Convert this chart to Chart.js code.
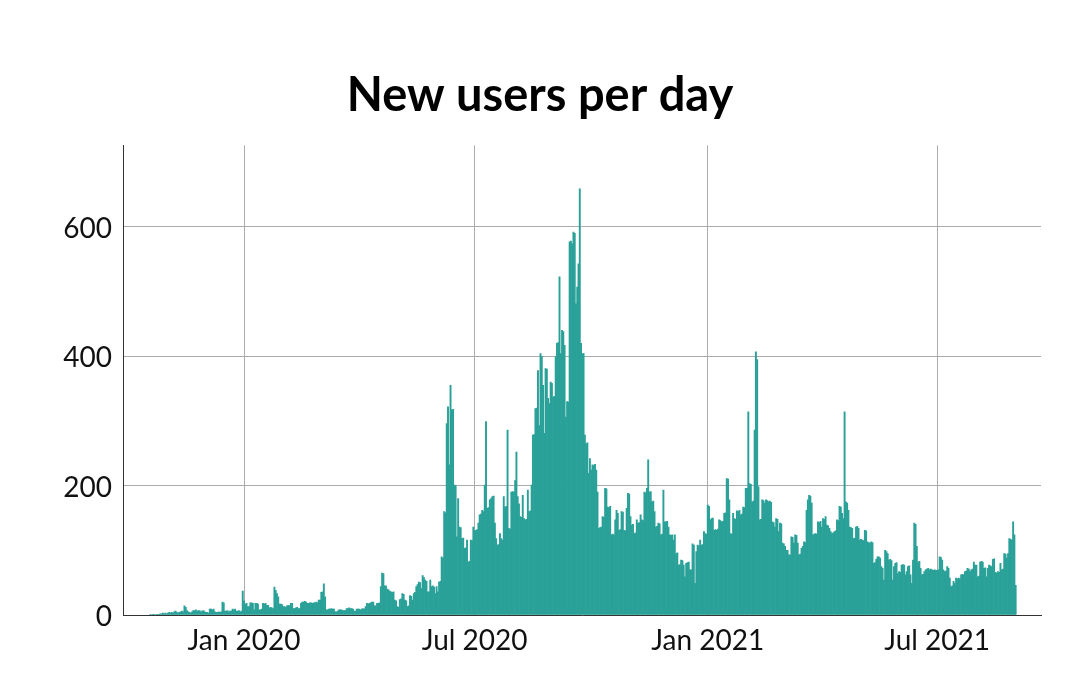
<!DOCTYPE html>
<html>
<head>
<meta charset="utf-8">
<script src="https://cdn.jsdelivr.net/npm/chart.js@4.4.1/dist/chart.umd.min.js"></script>
<style>
  html, body { margin: 0; padding: 0; background: #ffffff; }
  #users { display: block; }
</style>
</head>
<body>
<canvas id="users" width="1080" height="685"></canvas>
<script>
// daily new users, first value is 19 Oct 2019
const firstDay = Date.UTC(2019, 9, 19);
const users2019 = [
  1, 0, 1, 1, 0, 1, 1, 1, 2, 2, 3, 2, 3, 2, 3, 4, 3, 4, 3,
  5, 6, 4, 3, 4, 5, 6, 5, 14, 12, 7, 5, 4, 3, 5, 7, 7, 8, 6, 7, 7, 5, 6, 7, 5, 4, 4, 3, 9, 9, 8, 9, 5, 4, 4, 5, 4, 5, 20, 19, 6, 6, 7, 5, 6, 6, 9, 8, 9, 6, 6, 7, 5, 6, 37,
];
const users2020 = [
  // jan
  22, 17, 18, 13, 13, 19, 19, 18, 8, 18, 18, 17, 8, 8, 9, 18, 17, 18, 15, 15, 11, 12, 11, 10, 43, 38, 33, 28, 17, 17, 16,
  // feb
  13, 13, 12, 14, 15, 14, 18, 18, 10, 10, 11, 12, 10, 10, 18, 20, 20, 21, 20, 18, 18, 19, 19, 18, 19, 19, 20, 19, 23,
  // mar
  23, 35, 36, 48, 28, 8, 8, 9, 9, 10, 9, 9, 5, 5, 6, 8, 8, 8, 7, 7, 7, 10, 10, 11, 10, 10, 9, 6, 6, 9, 9,
  // apr
  9, 8, 9, 10, 9, 13, 18, 17, 18, 19, 20, 20, 14, 14, 18, 18, 19, 44, 65, 64, 45, 45, 40, 39, 37, 36, 35, 36, 23, 22,
  // may
  13, 12, 24, 25, 33, 32, 23, 22, 13, 14, 30, 29, 23, 33, 35, 44, 47, 51, 50, 41, 61, 58, 54, 52, 36, 36, 54, 44, 45, 43, 33,
  // jun
  44, 36, 51, 52, 90, 88, 160, 158, 296, 322, 232, 355, 317, 318, 201, 200, 121, 180, 136, 135, 118, 119, 103, 104, 116, 82, 83, 116, 115, 136,
  // jul
  131, 131, 132, 142, 155, 156, 162, 160, 201, 299, 165, 166, 178, 180, 183, 184, 142, 118, 108, 109, 126, 118, 116, 183, 167, 168, 286, 134, 133, 190, 191,
  // aug
  190, 208, 252, 183, 172, 152, 151, 185, 149, 147, 148, 193, 160, 161, 201, 278, 279, 319, 320, 378, 293, 404, 400, 355, 281, 381, 380, 335, 327, 360, 358,
  // sep
  337, 338, 399, 420, 421, 523, 404, 440, 438, 417, 306, 330, 329, 577, 578, 574, 592, 590, 481, 507, 543, 659, 420, 404, 404, 278, 265, 266, 219, 242,
  // oct
  224, 232, 231, 233, 224, 190, 134, 135, 136, 152, 151, 196, 195, 167, 166, 168, 124, 125, 124, 147, 162, 157, 131, 132, 160, 159, 131, 130, 165, 188, 187,
  // nov
  152, 139, 140, 126, 127, 147, 142, 143, 155, 147, 146, 190, 189, 196, 240, 190, 191, 175, 176, 160, 136, 137, 142, 141, 124, 125, 193, 144, 144, 145,
  // dec
  136, 124, 123, 124, 116, 124, 95, 96, 77, 78, 85, 84, 77, 59, 80, 81, 82, 70, 70, 110, 108, 49, 98, 108, 107, 116, 108, 109, 129, 126, 125,
];
const users2021 = [
  // jan
  170, 168, 147, 149, 150, 131, 132, 131, 133, 147, 146, 144, 145, 157, 158, 211, 210, 178, 126, 125, 157, 149, 148, 161, 160, 162, 155, 156, 167, 166, 196,
  // feb
  196, 314, 203, 202, 175, 176, 286, 407, 395, 198, 147, 148, 178, 177, 173, 178, 177, 175, 176, 174, 144, 143, 136, 149, 148, 129, 142, 141,
  // mar
  111, 110, 106, 100, 100, 93, 93, 121, 120, 111, 124, 123, 111, 93, 94, 103, 106, 113, 112, 162, 178, 185, 184, 173, 124, 125, 126, 125, 144, 143, 145,
  // apr
  136, 149, 148, 152, 139, 138, 134, 129, 126, 127, 129, 130, 147, 146, 168, 167, 157, 149, 314, 175, 173, 162, 136, 135, 134, 118, 119, 136, 137, 134,
  // may
  116, 117, 116, 115, 131, 130, 113, 112, 111, 113, 112, 80, 81, 86, 90, 90, 88, 75, 72, 54, 100, 98, 95, 85, 86, 84, 54, 75, 80, 81, 64,
  // jun
  67, 66, 77, 78, 77, 62, 67, 75, 76, 62, 49, 85, 142, 140, 106, 82, 83, 72, 62, 63, 67, 70, 71, 72, 70, 71, 70, 69, 70, 69,
  // jul
  69, 70, 90, 89, 85, 70, 67, 68, 75, 72, 57, 44, 45, 52, 49, 57, 56, 57, 56, 62, 63, 62, 67, 68, 72, 71, 67, 70, 71, 82, 77,
  // aug
  77, 59, 60, 82, 83, 82, 72, 73, 59, 72, 77, 76, 75, 86, 87, 66, 65, 67, 66, 80, 70, 71, 95, 94, 88, 95, 118, 117, 116, 144, 124,
  // sep
  46,
];
const tickDates = [Date.UTC(2020, 0, 1), Date.UTC(2020, 6, 1), Date.UTC(2021, 0, 1), Date.UTC(2021, 6, 1)];
const tickLabels = ["Jan 2020", "Jul 2020", "Jan 2021", "Jul 2021"];
const yTicks = [0, 200, 400, 600];

const DAY = 86400000;
const origin = Date.UTC(2020, 0, 1);
const startIndex = (firstDay - origin) / DAY;
const tickDays = tickDates.map((t) => (t - origin) / DAY);

const allUsers = users2019.concat(users2020, users2021);
const points = allUsers.map(function (v, i) {
  return { x: startIndex + i, y: v };
});

const users = document.getElementById("users");

new Chart(users, {
  type: "bar",
  data: {
    datasets: [
      {
        label: "New users",
        data: points,
        backgroundColor: "#2aa198",
        borderWidth: 0,
        barPercentage: 1,
        categoryPercentage: 1,
      },
    ],
  },
  options: {
    responsive: false,
    devicePixelRatio: 1,
    animation: false,
    events: [],
    layout: {
      // same margin both sides so the title sits in the middle of the page
      padding: { left: 39, right: 39, top: 0, bottom: 0 },
    },
    scales: {
      x: {
        type: "linear",
        offset: false,
        min: -95.5,
        max: 629,
        afterBuildTicks: function (scale) {
          scale.ticks = tickDays.map((v) => ({ value: v }));
        },
        afterFit: function (scale) {
          scale.height = 70;
        },
        grid: {
          offset: false,
          color: "#ababab",
          lineWidth: 1,
          drawTicks: false,
        },
        border: {
          color: "#333333",
          width: 1,
        },
        ticks: {
          padding: 9,
          color: "#111111",
          maxRotation: 0,
          autoSkip: false,
          font: { family: "Lato", size: 28 },
          callback: function (value) {
            const k = tickDays.indexOf(value);
            return k >= 0 ? tickLabels[k] : "";
          },
        },
      },
      y: {
        min: 0,
        max: 726,
        afterBuildTicks: function (scale) {
          scale.ticks = yTicks.map((v) => ({ value: v }));
        },
        afterFit: function (scale) {
          scale.width = 84;
        },
        grid: {
          color: "#ababab",
          lineWidth: 1,
          drawTicks: false,
        },
        border: {
          color: "#333333",
          width: 1,
        },
        ticks: {
          padding: 11,
          labelOffset: 2,
          color: "#111111",
          font: { family: "Lato", size: 28 },
        },
      },
    },
    plugins: {
      legend: { display: false },
      tooltip: { enabled: false },
      title: {
        display: true,
        text: "New users per day",
        color: "#000000",
        font: { family: "Lato", size: 47, weight: "bold", lineHeight: 1.2 },
        padding: { top: 68, bottom: 21 },
      },
    },
  },
});
</script>
</body>
</html>
